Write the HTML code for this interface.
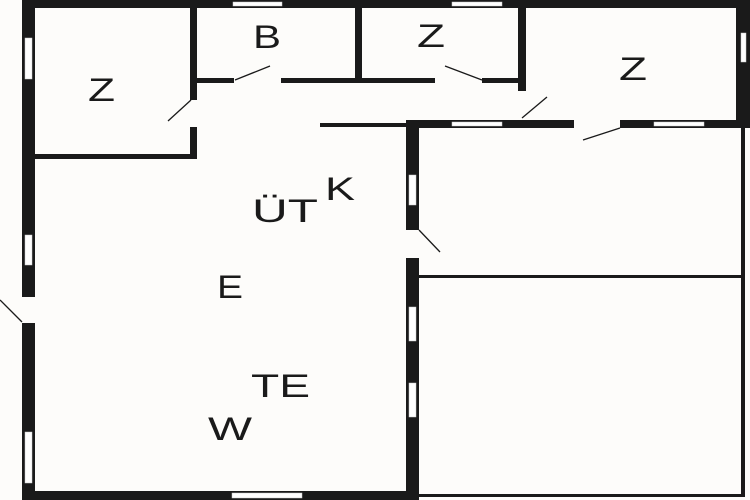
<!DOCTYPE html>
<html><head><meta charset="utf-8"><style>
html,body{margin:0;padding:0;background:#fdfcfa;}
svg{display:block}
text{font-family:"Liberation Sans",sans-serif;font-size:32px;fill:#1a1a1a}
</style></head><body>
<svg width="750" height="500" viewBox="0 0 750 500" xmlns="http://www.w3.org/2000/svg">
<rect width="750" height="500" fill="#fdfcfa"/>
<g fill="#1a1a1a">
<rect x="22" y="0" width="728" height="8"/>
<rect x="22" y="0" width="13" height="500"/>
<rect x="22" y="491" width="397" height="9"/>
<rect x="736" y="0" width="14" height="128"/>
<rect x="406" y="120" width="13" height="380"/>
<rect x="406" y="120" width="344" height="8"/>
<rect x="320" y="123" width="90" height="4"/>
<rect x="741" y="126" width="4" height="371"/>
<rect x="417" y="494" width="328" height="3"/>
<rect x="417" y="275" width="328" height="3"/>
<rect x="190" y="6" width="7" height="152"/>
<rect x="33" y="154" width="164" height="5"/>
<rect x="355" y="6" width="7" height="76"/>
<rect x="518" y="6" width="8" height="85"/>
<rect x="195" y="78" width="331" height="5"/>
</g>
<g fill="#fdfcfa">
<rect x="234" y="77" width="47" height="7"/>
<rect x="435" y="77" width="47" height="7"/>
<rect x="189" y="100" width="9" height="27"/>
<rect x="517" y="91" width="10" height="27"/>
<rect x="574" y="119" width="46" height="10"/>
<rect x="405" y="230" width="15" height="28"/>
<rect x="21" y="297" width="15" height="26"/>
</g>
<g fill="#ffffff" stroke="#ccc" stroke-width="0.5">
<rect x="233" y="2" width="49" height="4"/>
<rect x="452" y="2" width="50" height="4"/>
<rect x="452" y="122" width="50" height="4"/>
<rect x="654" y="122" width="50" height="4"/>
<rect x="741" y="33" width="5" height="29"/>
<rect x="25" y="38" width="7" height="41"/>
<rect x="25" y="235" width="7" height="30"/>
<rect x="25" y="432" width="7" height="51"/>
<rect x="232" y="493" width="70" height="5"/>
<rect x="409" y="175" width="7" height="30"/>
<rect x="409" y="307" width="7" height="34"/>
<rect x="409" y="383" width="7" height="34"/>
</g>
<g stroke="#1a1a1a" stroke-width="1.3" fill="none">
<line x1="235" y1="80" x2="270" y2="66"/>
<line x1="482" y1="80" x2="445" y2="66"/>
<line x1="191" y1="100" x2="168" y2="121"/>
<line x1="522" y1="118" x2="547" y2="97"/>
<line x1="620" y1="128" x2="583" y2="140"/>
<line x1="419" y1="230" x2="440" y2="252"/>
<line x1="22" y1="322" x2="0" y2="300"/>
</g>
<text x="253" y="48" textLength="28" lengthAdjust="spacingAndGlyphs">B</text>
<text x="88" y="101" textLength="27" lengthAdjust="spacingAndGlyphs">Z</text>
<text x="417" y="47" textLength="28" lengthAdjust="spacingAndGlyphs">Z</text>
<text x="619" y="80" textLength="28" lengthAdjust="spacingAndGlyphs">Z</text>
<text x="252" y="222" textLength="66" lengthAdjust="spacingAndGlyphs">ÜT</text>
<text x="325" y="200" textLength="30" lengthAdjust="spacingAndGlyphs">K</text>
<text x="217" y="298" textLength="26" lengthAdjust="spacingAndGlyphs">E</text>
<text x="251" y="397" textLength="59" lengthAdjust="spacingAndGlyphs">TE</text>
<text x="208" y="440" textLength="44" lengthAdjust="spacingAndGlyphs">W</text>
</svg>
</body></html>
